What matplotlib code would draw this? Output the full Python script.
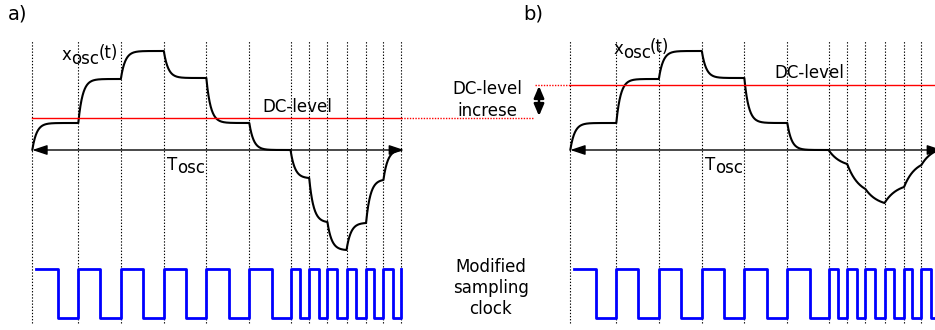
import numpy as np
import matplotlib.pyplot as plt

# sample instants, in units of the slow clock period (a dotted line at each)
t_samp = [0, 1.06, 2.04, 3.03, 4.01, 5.0, 5.95, 6.38, 6.80, 7.24, 7.69, 8.09, 8.49]
# settled x_osc(t) level in each sample interval, panel a
lvl_a = [0.27, 0.71, 0.99, 0.72, 0.27, 0.0, -0.28, -0.72, -1.0, -0.73, -0.30, 0.0]
# panel b: same slow part, then the values reached at the fast sample instants
lvl_b = [0.27, 0.71, 0.99, 0.72, 0.27, 0.0, -0.14, -0.39, -0.53, -0.37, -0.15, 0.0]
n_slow = 6

# sampling clock: starts high, rises on each sample line, falls here
clk_start = 0.08
clk_fall = [0.585, 1.56, 2.56, 3.54, 4.53, 5.53, 6.17, 6.61, 7.03, 7.45, 7.87, 8.30]

dc_a = 0.32
dc_b = 0.65

PX = 43.4        # pixels per clock period
X0 = 32.3        # pixel of the first sample line inside each panel
W, H = 935, 330


def tx(px):
    return (px - X0) / PX


def vy(py):
    return (150 - py) / 100


def settle(t0, t1, y0, y1, tau, n=80):
    t = np.linspace(t0, t1, n)
    s = (1 - np.exp(-(t - t0) / tau)) / (1 - np.exp(-(t1 - t0) / tau))
    return t, y0 + (y1 - y0) * s


def waveform(levels, slow_tau):
    ts, ys = [], []
    y = 0.0
    for i, lv in enumerate(levels):
        t0, t1 = t_samp[i], t_samp[i + 1]
        tau = 0.1 if (i < n_slow or slow_tau is None) else slow_tau * (t1 - t0)
        t, v = settle(t0, t1, y, lv, tau)
        ts.append(t)
        ys.append(v)
        y = lv
    return np.concatenate(ts), np.concatenate(ys)


def clock():
    xs = [clk_start]
    ys = [1]
    for f, r in zip(clk_fall, t_samp[1:]):
        xs += [f, r]
        ys += [0, 1]
    xs = np.array(xs)
    ys = np.array(ys)
    return xs, -1.68 + 0.49 * ys


def panel(ax, levels, slow_tau):
    ax.set_xlim(tx(0), tx(538))
    ax.set_ylim(vy(H), vy(0))
    ax.axis('off')
    ax.vlines(t_samp, vy(323), vy(40), colors='black', lw=0.8,
              linestyles=(0, (1.2, 1.6)))
    t, v = waveform(levels, slow_tau)
    ax.plot(t, v, color='black', lw=1.5, solid_capstyle='round')
    ct, cv = clock()
    ax.plot(ct, cv, color='#0000ff', lw=2, drawstyle='steps-post')
    ax.annotate('', xy=(tx(404), 0), xytext=(0, 0),
                arrowprops=dict(arrowstyle='<|-|>,head_length=0.9,head_width=0.3',
                                color='black', lw=1, shrinkA=0, shrinkB=0))
    ax.text(tx(166.7), vy(170), 'T', fontsize=12, va='baseline')
    ax.text(tx(176.7), vy(173.3), 'osc', fontsize=12, va='baseline')


fig = plt.figure(figsize=(W / 100, H / 100), dpi=100)
ax_a = fig.add_axes([0, 0, 538 / W, 1])
ax_b = fig.add_axes([538 / W, 0, 538 / W, 1])

panel(ax_a, lvl_a, None)
panel(ax_b, lvl_b, 0.65)

# DC levels
ax_a.plot([0, t_samp[-1]], [dc_a, dc_a], color='red', lw=1)
ax_a.plot([t_samp[-1], tx(533)], [dc_a, dc_a], color='red', lw=1, ls=(0, (1, 1)),
          clip_on=False)
ax_b.plot([0, tx(600)], [dc_b, dc_b], color='red', lw=1)
ax_b.plot([tx(535 - 538), 0], [dc_b, dc_b], color='red', lw=1, ls=(0, (1, 1)),
          clip_on=False)
ax_a.text(tx(262), vy(106.7), 'DC-level', fontsize=12, va='center')
ax_b.text(tx(774 - 538), vy(72.7), 'DC-level', fontsize=12, va='center')

# x_osc(t) labels
for ax, x0, yb in [(ax_a, 61.7, 60), (ax_b, 613.3 - 538, 53.5)]:
    ax.text(tx(x0), vy(yb), 'x', fontsize=12, va='baseline')
    ax.text(tx(x0 + 9.5), vy(yb + 4), 'osc', fontsize=12, va='baseline')
    ax.text(tx(x0 + 36.5), vy(yb - 1.5), '(t)', fontsize=12, va='baseline')

# DC-level increase marker between the panels
ax_b.annotate('', xy=(tx(539 - 538), dc_b - 0.01), xytext=(tx(539 - 538), dc_a + 0.02),
              arrowprops=dict(arrowstyle='<|-|>,head_length=0.7,head_width=0.3',
                              color='black', lw=1.8, shrinkA=0, shrinkB=0),
              annotation_clip=False)
ax_a.text(tx(487), vy(100), 'DC-level\nincrese', fontsize=12, ha='center',
          va='center', linespacing=1.25)
ax_a.text(tx(491), vy(288), 'Modified\nsampling\nclock', fontsize=12,
          ha='center', va='center', linespacing=1.25)

fig.text(8 / W, 1 - 5 / H, 'a)', fontsize=14, va='top')
fig.text(523 / W, 1 - 5 / H, 'b)', fontsize=14, va='top')

fig.savefig('out.png', dpi=100)
